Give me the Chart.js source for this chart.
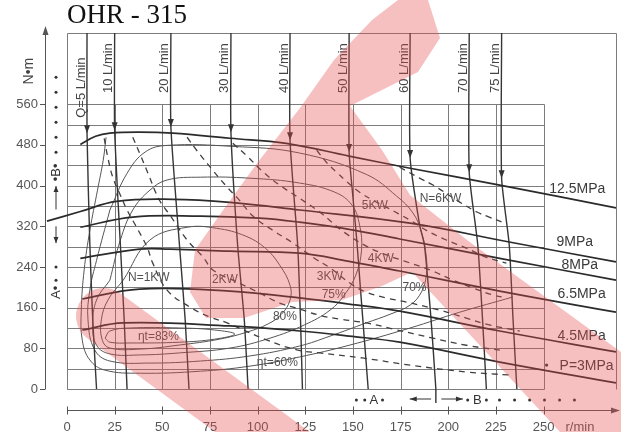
<!DOCTYPE html>
<html>
<head>
<meta charset="utf-8">
<script src="https://cdn.jsdelivr.net/npm/chart.js@4.4.1/dist/chart.umd.min.js"></script>
<style>
  html, body { margin: 0; padding: 0; background: #fff; }
  #wrap { position: relative; width: 621px; height: 432px; }
</style>
</head>
<body>
<div id="wrap"><canvas id="c" width="621" height="432"></canvas></div>
<script>
// ---- axes ----
const speedTicks  = [0, 25, 50, 75, 100, 125, 150, 175, 200, 225, 250];      // r/min
const torqueTicks = [0, 80, 160, 240, 320, 400, 480, 560];                   // N·m
const torqueGrid  = [0, 40, 80, 120, 160, 200, 240, 280, 320, 360, 400, 440, 480, 520, 560];
const speedMax = 288, torqueMax = 700;

// ---- constant pressure lines [r/min, N·m] ----
const pressureNames = ['12.5MPa', '9MPa', '8MPa', '6.5MPa', '4.5MPa', 'P=3MPa'];
const p125 = [[7,481],[15,497],[22.5,503],[38,505],[55.5,503],[85.5,493],[115,483],[148,458],[180,434],[227,401],[288,356]];
const p9   = [[-10.5,330],[7,349],[26,369],[55.5,373],[85.5,367],[122,352],[180,326],[232,289],[288,250]];
const p8   = [[7,318],[34.5,338],[70,340],[101,336],[122,328],[148,314],[174.5,295],[227,257],[288,214]];
const p65  = [[7,257],[38,275],[54,275],[85.5,271],[122,267],[148,251],[174.5,232],[227,192.5],[288,151]];
const p45  = [[8,177],[38,196.5],[85.5,192.5],[122,179],[148,167],[174.5,153],[227,114],[288,73]];
const p3   = [[8,116],[29.5,130],[85.5,124],[122,114],[148,104],[174.5,92],[227,53],[288,12]];

// ---- constant flow lines (first point: frame top, second: arrow tip) ----
const flowNames = ['Q=5 L/min', '10 L/min', '20 L/min', '30 L/min', '40 L/min', '50 L/min', '60 L/min', '70 L/min', '75 L/min'];
const q5  = [[10.5,700],[10.5,503],[12,283],[13.5,136],[15.5,0]];
const q10 = [[25,700],[25,509],[28,283],[30,136],[31.5,0]];
const q20 = [[54.5,700],[54.5,515],[59,283],[62,136],[64,0]];
const q30 = [[86,700],[86,505],[89.5,283],[93,136],[95,0]];
const q40 = [[117,700],[117,489],[121,283],[122.5,136],[123.5,0]];
const q50 = [[148,700],[148,466],[150,377],[152,293],[154,194.5],[158,0]];
const q60 = [[180,700],[180,454],[185,322],[187.5,283],[191,136],[193.5,0]];
const q70 = [[211,700],[211,426],[215.5,283],[218,136],[220,0]];
const q75 = [[228,700],[228,414.5],[232,283],[234,136],[236,0]];

// ---- constant output power lines ----
const powerNames = ['N=1KW', '2KW', '3KW', '4KW', '5KW', 'N=6KW'];
const kw1 = [[19.5,493],[21.5,454],[24,416.5],[28,381],[31.5,352],[36.5,318],[42,279],[45,247.5],[52.5,194.5],[64.5,161],[75,141.5],[84,130],[105,96],[120.5,77],[132.5,71],[155,61],[180,47],[209.5,33.5],[232,27.5]];
const kw2 = [[34.5,495],[38.5,460],[42.5,424],[48.5,371],[54,342],[63,293],[71.5,259],[76.5,234],[90.5,208],[101,189],[111.5,169],[120.5,159],[132.5,145],[143,137.5],[157,130],[171,118],[192,100],[209.5,86],[229.5,75]];
const kw3 = [[63,495],[68,469.5],[76.5,430],[84,397],[90.5,371],[97.5,340],[108,312],[118.5,287],[129,259],[138,238],[150,204],[157,190.5],[167.5,179],[178,171],[195.5,155],[209.5,139.5],[221.5,126],[237.5,114]];
const kw4 = [[87,483],[94.5,458],[102.5,428],[111.5,401],[122,375],[132.5,348],[145.5,308],[157,281],[166.5,265],[177,251.5],[190.5,234],[202.5,214],[213,198.5],[223.5,185],[230.5,179]];
const kw5 = [[131,469.5],[136.5,444],[141.5,426],[147,407],[153.5,387],[160.5,371],[167.5,357.5],[180,332],[188.5,312],[199,293],[209.5,277],[220,259],[230.5,247.5]];
const kw6 = [[174.5,436],[185,414.5],[192,401],[206,367.5],[215,348],[221.5,338],[228.5,328]];

// ---- total efficiency contours ----
const effNames = ['ηt=83%', '80%', '75%', '70%', 'ηt=60%'];
const e83 = [[20,100],[22.5,114],[33,120],[59,120],[77.5,116],[88,108],[77.5,98],[59,92],[33,90.5],[22.5,92],[20,100]];
const e80 = [[29.5,214],[43.5,293],[63,318],[78.5,316],[93.5,301],[104,277],[111.5,244],[117,204],[117,175],[112.5,147],[105.5,128],[94.5,112],[80,98],[59,86.5],[38.5,78.5],[22.5,80.5],[18.5,96],[18,136],[21.5,175],[29.5,214]];
const e75 = [[22.5,214],[28,293],[34.5,352],[43.5,391],[52.5,411],[70,416.5],[96,414.5],[122,405],[140.5,387],[149.5,361.5],[153.5,322],[154.5,273],[151.5,224],[145.5,185],[138,155],[124.5,126],[106.5,100],[85.5,80.5],[59,71],[38.5,67],[22.5,69],[15.5,86],[13.5,126],[15.5,175],[22.5,214]];
const e70 = [[22.5,352],[31.5,424],[41,466],[52.5,479],[87,477],[122,464],[157,422],[173,379],[181.5,346],[186,308],[188.5,259],[188.5,224],[186,191],[180,165],[169.5,147],[157,130],[138,104],[122,84.5],[96,65],[70,55],[43.5,51],[22.5,55],[14.5,77],[11,136],[12,195],[15.5,253],[22.5,352]];
const e60 = [[20.5,495],[19,450],[16,391],[12,312],[9,234],[7.5,155],[8,96],[12,57],[20,37],[38.5,31],[70,35],[96,45],[122,63],[148,86],[180,120],[206,151],[234,181]];

// ---- label anchors (left edge, vertical middle) in r/min, N·m ----
const pressureLabelAt = [[253,393],[256.8,288],[259.4,242.6],[257.3,186.6],[257.3,104],[258.4,45]];
const powerLabelAt    = [[32,218],[76,214],[131,220],[157.8,257],[154.6,359.5],[185,375]];
const effLabelAt      = [[37.2,102],[108,141.5],[133.6,184.7],[176,198.4],[99.6,51]];

const pressureLines = [p125, p9, p8, p65, p45, p3];
const flowLines = [q5, q10, q20, q30, q40, q50, q60, q70, q75];
const powerLines = [kw1, kw2, kw3, kw4, kw5, kw6];
const effLines = [e83, e80, e75, e70, e60];

const SANS = '"Liberation Sans", Arial, sans-serif';
const pts = arr => arr.map(([x, y]) => ({x, y}));
const curve = (label, arr, color, width, dash, tension) => ({
  label, data: pts(arr), showLine: true, pointRadius: 0, pointHoverRadius: 0,
  borderColor: color, borderWidth: width, borderDash: dash, tension,
  fill: false, clip: false
});

const datasets = [];
pressureLines.forEach((a, i) => datasets.push(curve(pressureNames[i], a, '#2b2b2b', 1.7, [], 0.4)));
flowLines.forEach((a, i) => datasets.push(curve(flowNames[i], a, '#363636', 1.4, [], 0.2)));
powerLines.forEach((a, i) => datasets.push(curve(powerNames[i], a, '#404040', 1.3, [6, 5], 0.4)));
effLines.forEach((a, i) => datasets.push(curve(effNames[i], a, '#555', 1.0, [], 0.4)));

// grid, frame and the two axes drawn from the chart's scales
const frame = {
  id: 'frame',
  beforeDatasetsDraw(chart) {
    const {ctx, scales: {x, y}} = chart;
    const px = v => Math.round(x.getPixelForValue(v)) + 0.5;
    const py = v => Math.round(y.getPixelForValue(v)) + 0.5;
    const sMax = speedTicks[speedTicks.length - 1];
    const tMax = torqueGrid[torqueGrid.length - 1];
    ctx.save();
    ctx.strokeStyle = '#7c7c7c';
    ctx.lineWidth = 1;
    ctx.beginPath();
    torqueGrid.forEach(v => { ctx.moveTo(px(0), py(v)); ctx.lineTo(px(sMax), py(v)); });
    speedTicks.forEach(v => { ctx.moveTo(px(v), py(0)); ctx.lineTo(px(v), py(tMax)); });
    ctx.moveTo(px(0), py(0)); ctx.lineTo(px(0), py(torqueMax));
    ctx.lineTo(px(speedMax), py(torqueMax)); ctx.lineTo(px(speedMax), py(0));
    ctx.stroke();
    ctx.restore();
  },
  afterDatasetsDraw(chart) {
    const {ctx, chartArea: a, scales: {x, y}} = chart;
    const X = v => x.getPixelForValue(v);
    const Y = v => y.getPixelForValue(v);
    ctx.save();

    // arrow heads where each flow line enters the field
    ctx.fillStyle = '#333';
    flowLines.forEach(f => {
      const tx = X(f[1][0]), ty = Y(f[1][1]);
      ctx.beginPath();
      ctx.moveTo(tx, ty); ctx.lineTo(tx - 3, ty - 8); ctx.lineTo(tx + 3, ty - 8);
      ctx.closePath(); ctx.fill();
    });

    // flow labels, rotated, hanging from the top of the frame
    ctx.font = '13px ' + SANS;
    ctx.fillStyle = '#444';
    ctx.textBaseline = 'alphabetic';
    flowLines.forEach((f, i) => {
      const bx = X(f[0][0]) - 2.5;
      const ty = i === 0 ? Y(652) : Y(680);
      ctx.save(); ctx.translate(bx, ty); ctx.rotate(-Math.PI / 2);
      ctx.textAlign = 'right'; ctx.fillText(flowNames[i], 0, 0);
      ctx.restore();
    });

    // pressure labels on the right
    ctx.font = '14px ' + SANS;
    ctx.fillStyle = '#3a3a3a';
    ctx.textAlign = 'left'; ctx.textBaseline = 'middle';
    pressureNames.forEach((t, i) => ctx.fillText(t, X(pressureLabelAt[i][0]), Y(pressureLabelAt[i][1])));
    ctx.beginPath(); ctx.arc(X(251.6), Y(47), 1.6, 0, Math.PI * 2); ctx.fill();

    // power and efficiency labels
    ctx.font = '12px ' + SANS;
    ctx.fillStyle = '#505050';
    powerNames.forEach((t, i) => ctx.fillText(t, X(powerLabelAt[i][0]), Y(powerLabelAt[i][1])));
    effNames.forEach((t, i) => ctx.fillText(t, X(effLabelAt[i][0]), Y(effLabelAt[i][1])));

    // vertical torque axis
    const ax = a.left - 22;
    ctx.strokeStyle = '#555'; ctx.lineWidth = 1;
    ctx.beginPath();
    ctx.moveTo(ax + 0.5, Y(0)); ctx.lineTo(ax + 0.5, a.top - 3);
    torqueTicks.forEach(v => { const yy = Math.round(Y(v)) + 0.5; ctx.moveTo(ax - 5, yy); ctx.lineTo(ax + 0.5, yy); });
    ctx.stroke();
    ctx.fillStyle = '#555';
    ctx.beginPath(); ctx.moveTo(ax + 0.5, a.top - 7); ctx.lineTo(ax - 2.5, a.top + 2); ctx.lineTo(ax + 3.5, a.top + 2); ctx.closePath(); ctx.fill();
    ctx.font = '13px ' + SANS;
    ctx.fillStyle = '#555';
    ctx.textAlign = 'right'; ctx.textBaseline = 'middle';
    torqueTicks.forEach(v => ctx.fillText(String(v), ax - 7, Y(v)));
    ctx.save(); ctx.translate(a.left - 38, Y(625)); ctx.rotate(-Math.PI / 2);
    ctx.font = '14px ' + SANS; ctx.textAlign = 'center'; ctx.fillStyle = '#444';
    ctx.fillText('N•m', 0, 0); ctx.restore();

    // horizontal speed axis
    const ay = a.bottom + 21.5;
    ctx.strokeStyle = '#555';
    ctx.beginPath();
    ctx.moveTo(X(0), ay); ctx.lineTo(chart.width - 4, ay);
    speedTicks.forEach(v => { const xx = Math.round(X(v)) + 0.5; ctx.moveTo(xx, ay - 4); ctx.lineTo(xx, ay + 4); });
    ctx.stroke();
    ctx.beginPath(); ctx.moveTo(chart.width - 1, ay); ctx.lineTo(chart.width - 10, ay - 3); ctx.lineTo(chart.width - 10, ay + 3); ctx.closePath(); ctx.fill();
    ctx.textAlign = 'center'; ctx.textBaseline = 'middle';
    speedTicks.forEach(v => ctx.fillText(String(v), X(v), ay + 17));
    ctx.textAlign = 'left';
    ctx.fillText('r/min', X(261.5), ay + 17);

    // A / B operating zones: left column
    const dot = (cx, cy) => { ctx.beginPath(); ctx.arc(cx, cy, 1.5, 0, Math.PI * 2); ctx.fill(); };
    const cx = a.left - 11;
    ctx.fillStyle = '#333'; ctx.strokeStyle = '#333';
    [613, 583.5, 554, 524.5, 495, 465.5, 240, 214].forEach(v => dot(cx, Y(v)));
    const rotText = (t, x0, y0) => { ctx.save(); ctx.translate(x0, y0); ctx.rotate(-Math.PI / 2); ctx.textAlign = 'center'; ctx.textBaseline = 'middle'; ctx.fillText(t, 0, 0); ctx.restore(); };
    ctx.font = '13px ' + SANS;
    rotText('•B•', cx, Y(426));
    rotText('A•', cx, Y(190));
    const arrowV = (x0, y1, y2) => {
      ctx.beginPath(); ctx.moveTo(x0, y1); ctx.lineTo(x0, y2); ctx.stroke();
      const d = y2 > y1 ? 1 : -1;
      ctx.beginPath(); ctx.moveTo(x0, y2); ctx.lineTo(x0 - 2.5, y2 - 6 * d); ctx.lineTo(x0 + 2.5, y2 - 6 * d); ctx.closePath(); ctx.fill();
    };
    arrowV(cx, Y(353), Y(399));
    arrowV(cx, Y(320), Y(287));

    // A / B operating zones: bottom row
    const by = a.bottom + 11;
    [151.8, 156.2, 165.5, 210.2, 220, 226.9, 234.8, 242.7, 250.5, 258.4, 266.2].forEach(v => dot(X(v), by));
    ctx.textAlign = 'center'; ctx.textBaseline = 'middle';
    ctx.fillText('A', X(161), by);
    ctx.fillText('B', X(215.2), by);
    const arrowH = (y0, x1, x2) => {
      ctx.beginPath(); ctx.moveTo(x1, y0); ctx.lineTo(x2, y0); ctx.stroke();
      const d = x2 > x1 ? 1 : -1;
      ctx.beginPath(); ctx.moveTo(x2, y0); ctx.lineTo(x2 - 7 * d, y0 - 2.5); ctx.lineTo(x2 - 7 * d, y0 + 2.5); ctx.closePath(); ctx.fill();
    };
    arrowH(by - 1, X(191), X(179.8));
    arrowH(by - 1, X(196.4), X(207.7));
    const last60 = q60[q60.length - 1];
    ctx.lineWidth = 1.4;
    ctx.beginPath(); ctx.moveTo(X(last60[0]), Y(0)); ctx.lineTo(X(last60[0]), by + 3); ctx.stroke();

    // title
    ctx.font = '27px "Liberation Serif", "Times New Roman", serif';
    ctx.fillStyle = '#111';
    ctx.textAlign = 'left'; ctx.textBaseline = 'alphabetic';
    ctx.fillText('OHR - 315', a.left, 23);
    ctx.restore();
  }
};

// translucent emblem laid over the sheet
const emblem = {
  id: 'emblem',
  afterDraw(chart) {
    const {ctx, width, height} = chart;
    const off = document.createElement('canvas');
    off.width = width; off.height = height;
    const g = off.getContext('2d');
    g.fillStyle = g.strokeStyle = '#e44c4c';
    g.lineJoin = 'round';
    g.beginPath();
    [[398,0],[428,0],[440,38],[418,72],[350,106],[382,150],[410,195],[467,240],[621,352],[621,432],[560,432],
     [412,272],[382,286],[342,300],[292,302],[244,318],[206,318],[190,292],[195,250],[226,206],[258,162],
     [300,108],[334,60],[372,20]].forEach(([px, py], i) => i ? g.lineTo(px, py) : g.moveTo(px, py));
    g.closePath(); g.fill();
    g.lineCap = 'round'; g.lineWidth = 56;
    g.beginPath(); g.moveTo(104, 316); g.lineTo(290, 452); g.stroke();
    ctx.save();
    ctx.globalAlpha = 0.35;
    ctx.drawImage(off, 0, 0);
    ctx.restore();
  }
};

new Chart(document.getElementById('c'), {
  type: 'scatter',
  data: { datasets },
  options: {
    responsive: false,
    animation: false,
    devicePixelRatio: 1,
    layout: { padding: { left: 67, right: 5, top: 33, bottom: 43 } },
    scales: {
      x: { type: 'linear', min: 0, max: speedMax, display: false },
      y: { type: 'linear', min: 0, max: torqueMax, display: false }
    },
    plugins: { legend: { display: false }, tooltip: { enabled: false } },
    events: []
  },
  plugins: [frame, emblem]
});
</script>
</body>
</html>
